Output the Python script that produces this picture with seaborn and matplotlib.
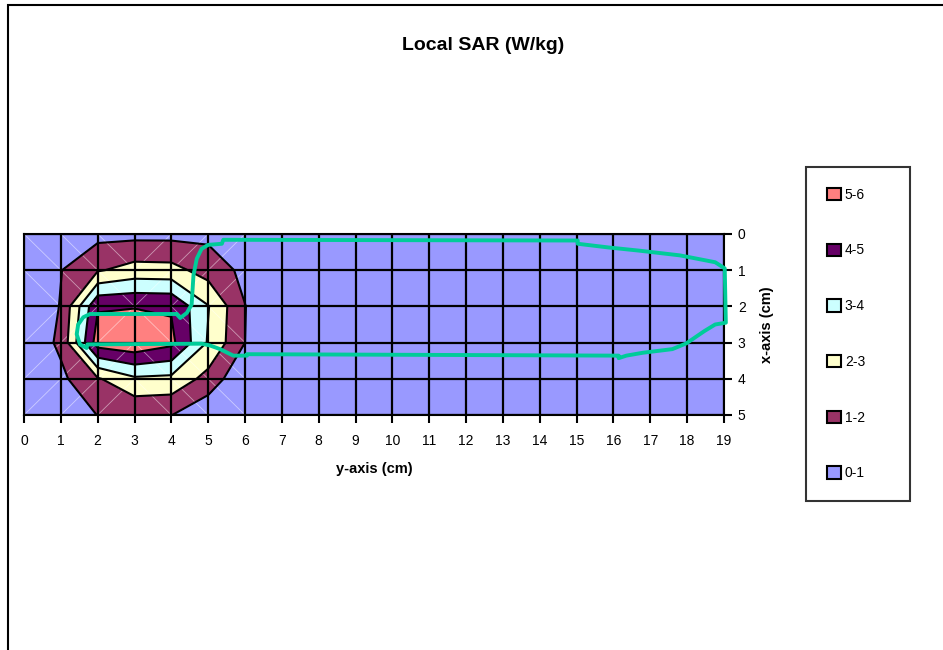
import numpy as np
import pandas as pd
import matplotlib
matplotlib.use("Agg")
import matplotlib.pyplot as plt
from matplotlib.patches import Patch, Rectangle
import seaborn as sns

# grid positions (cm)
y_pos = list(range(20))
x_pos = list(range(6))

# local SAR (W/kg), one row per x position, y = 0..19
sar_x0 = [0.1, 0.2, 0.7, 0.7, 0.7, 0.76, 0.2, 0.2] + [0.3] * 12
sar_x1 = [0.1, 0.97, 1.9, 2.4, 2.35, 1.57, 0.76, 0.2] + [0.3] * 12
sar_x2 = [0.1, 1.05, 4.9, 4.95, 4.9, 3.05, 1.02, 0.2] + [0.3] * 12
sar_x3 = [0.2, 1.2, 5.5, 5.8, 5.25, 2.9, 1.0, 0.2] + [0.3] * 12
sar_x4 = [0.1, 0.78, 1.9, 2.84, 2.75, 1.65, 0.1, 0.2] + [0.3] * 12
sar_x5 = [0.1, 0.3, 1.02, 1.1, 1.02, 0.2, 0.1, 0.2] + [0.3] * 12

levels = [0, 1, 2, 3, 4, 5, 6]
band_labels = ['0-1', '1-2', '2-3', '3-4', '4-5', '5-6']
band_colors = ['#9999FF', '#993366', '#FFFFCC', '#CCFFFF', '#660066', '#FF8080']

# phone outline (y along bottom axis, x along right axis)
outline_y = [4.14, 1.79, 1.61, 1.47, 1.43, 1.52, 1.70, 1.72, 4.82, 5.05, 5.32, 5.68, 6.05, 6.05,
             16.14, 16.14, 16.35, 16.8, 17.6, 17.98, 18.47, 18.76, 19.05, 19.02, 18.76, 17.8,
             16.7, 15.85, 15.03, 15.03, 5.41, 5.37, 5.0, 4.82, 4.69, 4.6, 4.55, 4.42, 4.24, 4.14]
outline_x = [2.21, 2.21, 2.30, 2.50, 2.77, 3.05, 3.15, 3.05, 3.03, 3.08, 3.18, 3.36, 3.36, 3.32,
             3.36, 3.43, 3.36, 3.28, 3.18, 3.02, 2.68, 2.50, 2.45, 0.95, 0.78, 0.59,
             0.46, 0.37, 0.27, 0.18, 0.16, 0.27, 0.30, 0.41, 0.68, 1.14, 1.95, 2.18, 2.32, 2.21]

sns.set_theme(style="white")
plt.rcParams['font.family'] = ['Liberation Sans', 'DejaVu Sans']
plt.rcParams.update({'text.color': 'black', 'axes.labelcolor': 'black',
                     'xtick.color': 'black', 'ytick.color': 'black'})

fig = plt.figure(figsize=(9.43, 6.5), dpi=100)
ax = fig.add_axes([24/943, 1-415/650, 700/943, 181/650])

Z = np.array([sar_x0, sar_x1, sar_x2, sar_x3, sar_x4, sar_x5])
Y, X = np.meshgrid(y_pos, x_pos)
ax.contourf(Y, X, Z, levels=levels, colors=band_colors)

# faint triangulation diagonals near the hot spot
for cy in range(6):
    for cx in range(5):
        if (cy + 0.5 < 3) == (cx + 0.5 < 2.5):
            ax.plot([cy, cy+1], [cx, cx+1], color='white', lw=0.6, alpha=0.5)
        else:
            ax.plot([cy, cy+1], [cx+1, cx], color='white', lw=0.6, alpha=0.5)

ax.contour(Y, X, Z, levels=levels[1:-1], colors='black', linewidths=1.5)

for v in y_pos:
    ax.axvline(v, color='black', lw=1.6)
for v in x_pos:
    ax.axhline(v, color='black', lw=1.6)

outline = pd.DataFrame({'y': outline_y, 'x': outline_x})
sns.lineplot(data=outline, x='y', y='x', sort=False, estimator=None, color='#00CC99',
             lw=2.8, ax=ax, clip_on=False, zorder=5)

ax.set_xlim(0, 19)
ax.set_ylim(5, 0)
ax.set_xticks(y_pos)
ax.set_yticks(x_pos)
ax.yaxis.tick_right()
ax.yaxis.set_label_position('right')
ax.tick_params(axis='both', direction='out', length=6, width=1.5, color='black',
               labelsize=10, bottom=True, right=True, left=False)
ax.tick_params(axis='x', pad=8)
ax.tick_params(axis='y', pad=4)
for s in ax.spines.values():
    s.set_color('black')
    s.set_linewidth(1.5)
ax.set_xlabel('y-axis (cm)', fontsize=10.5, fontweight='bold', labelpad=10)
ax.set_ylabel('x-axis (cm)', fontsize=10.5, fontweight='bold', labelpad=10, rotation=90)

fig.text(483/943, 1-45/650, 'Local SAR (W/kg)', ha='center', va='center',
         fontsize=14, fontweight='bold')

handles = [Patch(facecolor=c, edgecolor='black', linewidth=1.5) for c in band_colors[::-1]]
leg = fig.legend(handles, band_labels[::-1], loc='upper left',
                 bbox_to_anchor=(806/943, 1-167/650, 104/943, 0.0), mode='expand',
                 borderaxespad=0, frameon=True, fancybox=False,
                 edgecolor='black', fontsize=10, handlelength=1.0, handleheight=1.0,
                 labelspacing=3.0, borderpad=1.5, handletextpad=0.3)
leg.get_frame().set_linewidth(1.5)

fig.patches.append(Rectangle((8/943, -0.1), 1.1, 1.1 - 5/650, transform=fig.transFigure,
                             fill=False, edgecolor='black', lw=1.5))

fig.savefig('out.png', dpi=100)
